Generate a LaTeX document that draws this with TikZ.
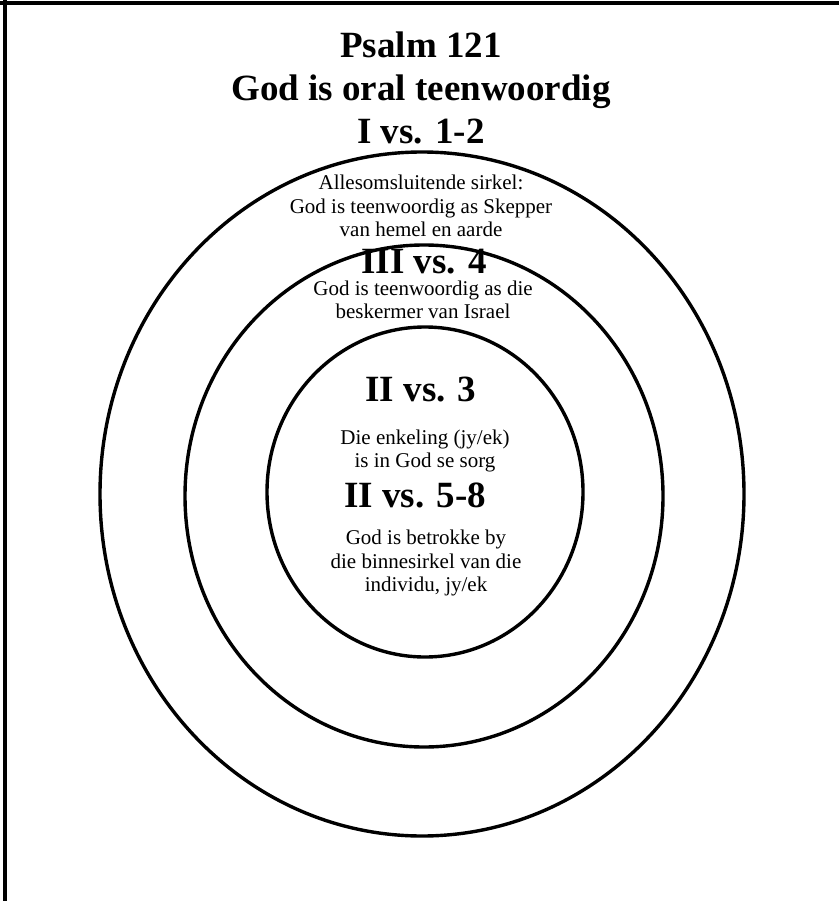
\documentclass[tikz,border=0pt]{standalone}
\usepackage{fontspec}
\setmainfont{Liberation Serif}
\usetikzlibrary{positioning}

\begin{document}
\begin{tikzpicture}[
    x=1pt, y=-1pt,
    heading/.style={font=\fontsize{37}{43}\selectfont\bfseries, align=center, inner sep=0pt},
    label/.style={font=\fontsize{37}{43}\selectfont\bfseries, inner sep=0pt},
    note/.style={font=\fontsize{21}{23.5}\selectfont, align=center, inner sep=0pt},
    ring/.style={line width=3.4pt, draw=black}
]
\useasboundingbox (0,0) rectangle (839,901);

% Frame (top and left edge only)
\draw[line width=3.5pt] (0,3) -- (839,3);
\draw[line width=3.5pt] (5,0) -- (5,901);

% Title
\node[heading] (title) at (421,88) {Psalm 121\\God is oral teenwoordig\\I vs. 1-2};

% Three rings
\draw[ring] (422,494) ellipse [x radius=322, y radius=342];
\draw[ring] (424,496) ellipse [x radius=239, y radius=251];
\draw[ring] (425,492) ellipse [x radius=158, y radius=165];

% Outer ring: vs. 1-2
\node[note] (outer) at (421,206) {Allesomsluitende sirkel:\\God is teenwoordig as Skepper\\van hemel en aarde};

% Middle ring: vs. 4
\node[label] (mid) at (424,262) {III vs. 4};
\node[note] (midtext) at (423,300) {God is teenwoordig as die\\beskermer van Israel};

% Inner ring: vs. 3 and vs. 5-8
\node[label] (inA) at (421,390) {II vs. 3};
\node[note] (inAtext) at (425,451) {Die enkeling (jy/ek)\\is in God se sorg};
\node[label] (inB) at (415,495) {II vs. 5-8};
\node[note] (inBtext) at (426,563) {God is betrokke by\\die binnesirkel van die\\individu, jy/ek};

\end{tikzpicture}
\end{document}
